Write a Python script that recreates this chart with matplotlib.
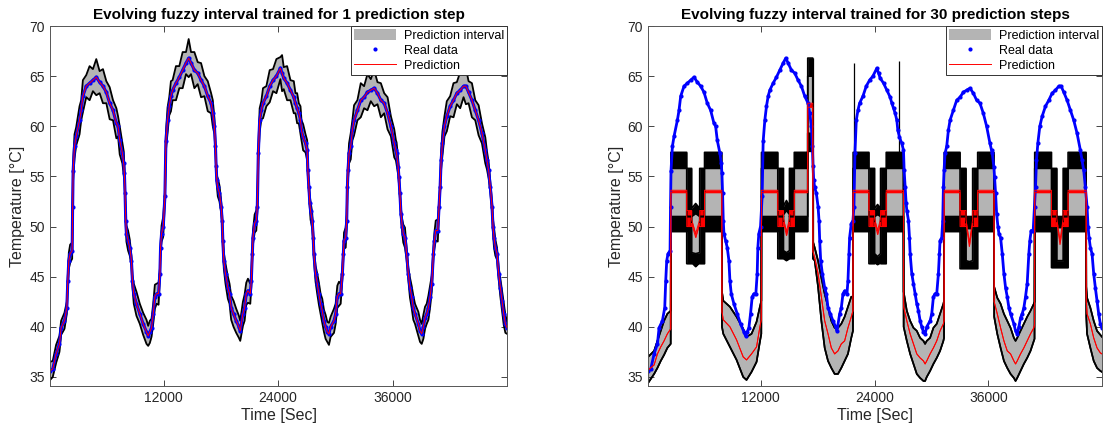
import numpy as np
import matplotlib
matplotlib.use('Agg')
import matplotlib.pyplot as plt

plt.rcParams['font.family'] = ['Liberation Sans', 'DejaVu Sans']

# ---- real data: time [s], temperature [°C] ----
real_t = [106, 387, 738, 1089, 1264, 1615, 1861, 1966, 2071, 2211, 2422,
          2470, 2520, 2668, 2843, 3194, 3369, 3545, 3896, 4247, 4598, 4949, 5299,
          5650, 6001, 6352, 6703, 7054, 7229, 7405, 7686, 7826, 7896,
          7966, 8036, 8107, 8282, 8458, 8633, 8738, 8879, 9159, 9510, 9861,
          10212, 10388, 10563, 10738, 10914, 11089, 11265, 11475, 11616, 11686, 11791, 11967,
          12140, 12246, 12421, 12597, 12772, 12948, 13299, 13650, 14000, 14351, 14632,
          14878, 15229, 15579, 15930, 16281, 16632, 16983, 17159, 17334, 17439,
          17509, 17580, 17685, 17860, 18036, 18141, 18211, 18316, 18492, 18738, 18913,
          19088, 19334, 19615, 19896, 20036, 20317, 20492, 20668, 20843, 21089, 21194,
          21299, 21369, 21545, 21720, 21825, 21931, 22071, 22247, 22422, 22773, 23124, 23475, 23826,
          24245, 24420, 24596, 24947, 25298, 25649, 25824, 26000, 26175, 26350, 26456, 26631, 26877, 27052,
          27122, 27228, 27333, 27403, 27578, 27684, 27754, 27929, 28105, 28280, 28456, 28631, 28807,
          28982, 29158, 29333, 29508, 29859, 30035, 30210, 30386, 30561, 30737, 30842, 30912, 31087, 31193,
          31263, 31333, 31438, 31614, 31789, 31965, 32316, 32667, 33017, 33368, 33719, 34070,
          34421, 34772, 35123, 35474, 35825, 36176, 36351, 36420, 36596, 36666, 36771, 36877, 37017,
          37122, 37298, 37473, 37649, 37824, 38000, 38175, 38350, 38701, 38877, 39052, 39228,
          39403, 39578, 39754, 39929, 40105, 40280, 40386, 40526, 40736, 40877, 40982,
          41087, 41228, 41438, 41684, 42035, 42386, 42737, 43087, 43438, 43684,
          43965, 44316, 44667, 45017, 45368, 45719, 45894, 46070, 46245,
          46421, 46526, 46631, 46772, 46947, 47123, 47298, 47473, 47649, 47824, 48000]
real_temp = [35.6, 35.8, 37.3, 38.3, 39.9, 40.6, 41.9, 44.6, 46.6, 47.3, 47.6,
             52.0, 55.5, 58.0, 59.0, 60.6, 61.6, 63.0, 64.0, 64.3, 64.6, 64.9, 64.4,
             64.0, 63.4, 62.3, 61.6, 60.3, 60.0, 58.6, 57.3, 56.3, 55.3,
             53.3, 50.6, 49.3, 48.6, 47.9, 46.6, 44.6, 43.3, 42.3, 41.3, 40.3,
             39.5, 39.1, 39.5, 39.9, 41.3, 43.0, 43.3, 43.3, 45.3, 47.9, 49.3, 50.0,
             53.0, 58.5, 60.6, 62.0, 63.0, 63.6, 64.3, 64.9, 65.6, 66.3, 66.8,
             66.3, 65.6, 65.3, 64.6, 64.0, 63.0, 62.3, 61.3, 60.0, 58.0,
             56.0, 54.6, 53.9, 53.3, 52.0, 50.6, 48.6, 46.6, 45.3, 43.9, 43.3,
             41.9, 41.3, 40.6, 40.0, 39.6, 41.3, 41.9, 43.3, 43.6, 43.3, 44.6,
             47.3, 48.9, 50.3, 50.6, 52.0, 57.3, 60.6, 61.6, 62.3, 63.0, 64.0, 64.6, 65.0,
             65.8, 65.3, 64.8, 64.3, 63.6, 62.9, 62.3, 61.8, 61.3, 60.6, 59.6, 58.9, 58.3, 57.6,
             55.6, 53.9, 52.3, 51.6, 50.6, 48.9, 47.3, 45.3, 44.3, 43.3, 42.3, 41.6, 40.6,
             40.0, 39.5, 39.3, 40.0, 40.6, 41.3, 43.0, 43.3, 43.3, 45.3, 47.3, 48.6, 48.9, 50.6,
             53.9, 55.6, 57.3, 58.0, 59.6, 60.6, 61.6, 62.6, 62.9, 63.4, 63.6, 63.8,
             63.3, 62.6, 62.3, 61.3, 60.0, 58.3, 57.6, 57.3, 55.9, 54.9, 53.3, 51.3, 50.0,
             49.3, 48.9, 47.3, 45.3, 43.9, 43.0, 41.9, 41.3, 40.3, 39.6, 39.3, 40.0,
             40.9, 41.3, 41.9, 43.0, 44.3, 47.3, 48.6, 49.6, 49.6, 52.0, 53.9,
             56.6, 58.3, 60.0, 61.0, 62.0, 62.6, 63.3, 63.6, 64.0, 64.0,
             63.4, 62.6, 61.6, 60.6, 59.3, 57.6, 56.6, 55.6, 53.9,
             52.0, 50.0, 48.9, 47.9, 47.3, 45.3, 43.9, 42.6, 41.3, 40.3, 39.9]
# half width of the 1-step prediction interval at each sample
pi1_halfwidth = [0.9, 0.8, 0.9, 0.8, 0.7, 0.8, 0.6, 0.5, 0.8, 0.9, 0.8,
                 0.4, 0.9, 1.2, 0.9, 1.4, 1.0, 1.6, 1.1, 1.7, 1.1, 1.8, 1.1,
                 1.7, 1.1, 1.6, 1.0, 1.5, 1.0, 1.4, 1.0, 1.2, 0.8,
                 0.4, 0.4, 0.8, 1.0, 0.8, 0.5, 0.6, 1.0, 1.2, 1.0, 1.1,
                 1.2, 1.0, 1.1, 0.9, 1.0, 1.2, 1.0, 1.1, 0.5, 0.4, 0.8, 1.0,
                 0.4, 0.9, 1.3, 0.9, 1.5, 1.0, 1.7, 1.1, 1.8, 1.1, 1.9,
                 1.1, 1.8, 1.1, 1.7, 1.0, 1.5, 1.0, 1.3, 0.8, 0.5,
                 0.4, 0.5, 0.9, 0.8, 0.6, 0.5, 0.5, 0.8, 1.0, 1.1, 1.0,
                 1.2, 1.3, 1.2, 1.1, 1.0, 1.2, 1.3, 1.1, 1.2, 1.0, 0.6,
                 0.4, 0.7, 0.9, 1.0, 0.5, 0.6, 1.2, 0.9, 1.5, 1.0, 1.6, 1.1, 1.7,
                 1.1, 1.8, 1.1, 1.7, 1.0, 1.6, 1.0, 1.5, 1.0, 1.4, 1.0, 1.3, 0.9, 1.0,
                 0.5, 0.5, 0.7, 0.9, 0.8, 0.5, 0.5, 0.8, 1.0, 1.1, 1.0, 1.2, 1.1,
                 1.2, 1.0, 1.1, 1.0, 1.2, 1.0, 1.1, 1.2, 1.0, 0.5, 0.4, 0.8, 1.0, 0.6,
                 0.5, 0.8, 1.0, 1.3, 1.0, 1.5, 1.0, 1.7, 1.1, 1.8, 1.1, 1.8,
                 1.1, 1.7, 1.0, 1.6, 1.0, 1.4, 1.0, 1.1, 0.8, 0.6, 0.5, 0.5, 0.7,
                 0.9, 1.0, 0.6, 0.6, 1.0, 1.1, 1.2, 1.0, 1.2, 1.1, 1.0, 1.2,
                 1.1, 1.0, 1.2, 1.1, 0.8, 0.4, 0.8, 1.0, 1.1, 0.5, 0.5,
                 0.9, 1.2, 1.0, 1.5, 1.0, 1.7, 1.1, 1.8, 1.1, 1.8,
                 1.1, 1.7, 1.0, 1.5, 1.0, 1.3, 0.9, 0.8, 0.5,
                 0.5, 0.7, 1.0, 0.8, 0.6, 0.6, 0.9, 1.0, 1.1, 0.9, 0.6]

# ---- 30-step model: stretches where the interval follows the data ----
low_t = [[105, 740, 1090, 1440, 1790, 2140, 2490],
         [7900, 8040, 8740, 9440, 10140, 10490, 11020, 11550, 11900, 12050],
         [17500, 17685, 18036, 18387, 18738, 19088, 19439, 19790, 20141, 20492, 20843, 21194, 21545, 21720],
         [27070, 27403, 27754, 28105, 28456, 28807, 29158, 29333, 29508, 29859, 30210, 30561, 30912, 31263, 31330],
         [36620, 36947, 37298, 37649, 38000, 38350, 38701, 38877, 39052, 39403, 39754, 40105, 40456, 40807, 40880],
         [46340, 46421, 46772, 47123, 47473, 47824, 48000]]
low_upper = [[37.0, 37.6, 38.6, 39.6, 40.6, 41.3, 41.6],
             [43.5, 42.6, 42.0, 41.0, 39.8, 39.0, 39.3, 40.5, 42.0, 42.6],
             [48.5, 47.9, 46.6, 44.9, 43.3, 42.0, 40.6, 39.9, 39.9, 40.3, 41.0, 42.0, 43.0, 43.0],
             [43.5, 41.6, 40.6, 39.9, 39.6, 38.9, 38.6, 38.3, 38.6, 38.9, 39.9, 40.3, 41.3, 42.3, 42.6],
             [44.0, 42.9, 42.3, 41.3, 40.6, 39.9, 38.9, 38.6, 38.9, 39.6, 40.3, 41.0, 41.6, 42.3, 42.5],
             [44.0, 42.9, 41.9, 40.6, 39.6, 39.2, 39.0]]
low_pred = [[35.7, 36.2, 37.3, 38.0, 38.6, 39.3, 39.8],
            [41.5, 40.7, 40.0, 38.7, 37.0, 36.7, 37.3, 38.0, 40.0, 40.7],
            [47.5, 46.9, 45.3, 43.0, 40.6, 39.3, 37.9, 37.3, 37.6, 38.3, 38.6, 39.9, 41.0, 41.6],
            [42.0, 40.6, 39.3, 38.3, 37.3, 36.9, 36.6, 36.3, 36.6, 37.3, 37.9, 38.6, 39.6, 40.3, 40.6],
            [42.5, 41.3, 39.9, 38.6, 37.6, 37.3, 36.6, 36.3, 36.6, 37.3, 37.9, 38.6, 39.3, 39.9, 40.2],
            [42.5, 41.3, 40.3, 38.9, 37.9, 37.4, 37.3]]
low_lower = [[34.4, 35.3, 35.9, 36.6, 37.2, 37.9, 38.3],
             [40.0, 39.3, 38.0, 36.7, 35.0, 34.7, 35.5, 36.5, 38.5, 39.3],
             [46.8, 46.6, 44.0, 40.6, 37.9, 36.6, 35.9, 35.3, 35.3, 35.9, 36.6, 37.3, 38.9, 39.6],
             [40.0, 38.6, 37.3, 36.3, 35.3, 34.9, 34.6, 34.6, 35.0, 35.6, 36.3, 36.9, 37.6, 38.6, 38.9],
             [41.0, 39.3, 37.9, 36.6, 35.9, 35.3, 34.9, 34.6, 34.9, 35.6, 36.3, 36.9, 37.6, 38.6, 38.8],
             [41.0, 39.3, 37.9, 36.6, 35.9, 35.6, 35.5]]

# ---- 30-step model: plateau blocks (start, left column, centre, mid, centre end, right column end, end) ----
block_edges = [[2510, 4180, 4700, 5125, 5550, 6060, 7880],
               [12070, 13790, 14390, 14705, 15020, 15530, 16950],
               [21740, 23406, 24003, 24320, 24634, 25231, 27050],
               [31350, 33020, 33650, 34000, 34350, 34880, 36600],
               [40900, 42670, 43230, 43560, 43900, 44420, 46320]]
band_upper = [55.8, 57.4]     # black band of the upper bound on a plateau
band_lower = [49.5, 51.0]     # black band of the lower bound on a plateau
band_pred = [53.38, 53.62]
column_top = 55.8
column_pred = [50.0, 51.6]
col_bottom = [46.3, 46.8, 46.3, 45.8, 45.9]
center_upper_top = [[51.8, 52.3], [52.0, 52.6], [51.8, 52.2], [51.0, 51.0], [51.0, 51.0]]
center_upper_bot = [[51.0, 51.3], [51.2, 51.6], [51.0, 51.2], [49.8, 49.8], [49.9, 49.9]]
center_lower_top = [[47.4, 47.3], [47.6, 47.4], [47.3, 47.0], [46.6, 46.5], [46.6, 46.6]]
center_lower_bot = [[46.4, 46.0], [46.8, 46.6], [46.4, 46.2], [45.8, 45.8], [45.9, 45.9]]
center_pred = [[50.5, 49.1], [50.6, 49.3], [50.6, 49.4], [50.5, 48.2], [50.6, 48.4]]

# short high column after the second plateau
spike_col_t = [16950, 17480]
spike_col_upper = [65.0, 66.8]
spike_col_lower = [57.5, 59.3]
spike_col_pred = [61.9, 62.3]

# single-sample spikes of the upper bound
spike_t = [17490, 21880, 26550]
spike_bottom = [48.0, 57.0, 57.0]
spike_top = [66.8, 66.3, 66.5]

# ---- assemble the 30-step interval ----
r_t, r_ut, r_ub, r_lt, r_lb, r_pt, r_pb = [], [], [], [], [], [], []


def add(t, ut, ub, lt, lb, pt, pb):
    r_t.extend(t); r_ut.extend(ut); r_ub.extend(ub)
    r_lt.extend(lt); r_lb.extend(lb); r_pt.extend(pt); r_pb.extend(pb)


def add_low(i):
    add(low_t[i], low_upper[i], low_upper[i], low_lower[i], low_lower[i], low_pred[i], low_pred[i])


def add_block(i):
    s, lc, c, m, ce, rc, e = block_edges[i]
    t = [s, lc, lc, c, c, m, ce, ce, rc, rc, e]
    B = (band_upper[1], band_upper[0], band_lower[1], band_lower[0], band_pred[1], band_pred[0])
    C = (column_top, band_lower[1], band_lower[1], col_bottom[i], column_pred[1], column_pred[0])
    Me = (center_upper_top[i][0], center_upper_bot[i][0], center_lower_top[i][0], center_lower_bot[i][0],
          center_pred[i][0] + 0.2, center_pred[i][0] - 0.2)
    Mm = (center_upper_top[i][1], center_upper_bot[i][1], center_lower_top[i][1], center_lower_bot[i][1],
          center_pred[i][1] + 0.2, center_pred[i][1] - 0.2)
    rows = [B, B, C, C, Me, Mm, Me, C, C, B, B]
    add(t, *[[r[k] for r in rows] for k in range(6)])


add_low(0); add_block(0); add_low(1); add_block(1)
add(spike_col_t, [spike_col_upper[1]] * 2, [spike_col_upper[0]] * 2,
    [spike_col_lower[1]] * 2, [spike_col_lower[0]] * 2, [spike_col_pred[1]] * 2, [spike_col_pred[0]] * 2)
add_low(2); add_block(2); add_low(3); add_block(3); add_low(4); add_block(4); add_low(5)

GRAY = '#b4b4b4'
AX_COL = '#262626'
BLUE = '#0000ff'

fig = plt.figure(figsize=(11.04, 4.32), dpi=100)
ax1 = fig.add_axes([0.0453, 0.1065, 0.414, 0.8333])
ax2 = fig.add_axes([0.587, 0.1065, 0.4112, 0.8333])

rt = np.array(real_t)
rv = np.array(real_temp)
hw = np.array(pi1_halfwidth)

# left: 1-step
ax1.fill_between(rt, rv - hw, rv + hw, color=GRAY, lw=0, label='Prediction interval')
ax1.plot(rt, rv + hw, color='k', lw=1.3)
ax1.plot(rt, rv - hw, color='k', lw=1.3)
ax1.plot(rt, rv, color=BLUE, lw=2.2)
ax1.plot(rt, rv, ls='none', marker='o', ms=3.0, mec='none', color=BLUE, label='Real data')
ax1.plot(rt, rv, color='#ff0000', lw=0.7, label='Prediction')

# right: 30-step
ax2.fill_between(r_t, r_lb, r_ut, color=GRAY, lw=0, label='Prediction interval')
ax2.fill_between(r_t, r_ub, r_ut, color='k', lw=0)
ax2.fill_between(r_t, r_lb, r_lt, color='k', lw=0)
for arr in (r_ut, r_ub, r_lt, r_lb):
    ax2.plot(r_t, arr, color='k', lw=1.2)
ax2.vlines(spike_t, spike_bottom, spike_top, color='k', lw=0.9)
ax2.plot(rt, rv, color=BLUE, lw=2.0)
ax2.plot(rt, rv, ls='none', marker='o', ms=3.0, mec='none', color=BLUE, label='Real data')
ax2.fill_between(r_t, r_pb, r_pt, color='#ff0000', lw=0)
ax2.plot(r_t, r_pt, color='#ff0000', lw=0.7, label='Prediction')
ax2.plot(r_t, r_pb, color='#ff0000', lw=0.7)

titles = ['Evolving fuzzy interval trained for 1 prediction step',
          'Evolving fuzzy interval trained for 30 prediction steps']
for ax, title in zip((ax1, ax2), titles):
    ax.set_xlim(100, 48000)
    ax.set_ylim(34.1, 70)
    ax.set_xticks([12000, 24000, 36000])
    ax.set_yticks(np.arange(35, 71, 5))
    ax.tick_params(direction='in', top=True, right=True, length=4, width=0.6,
                   labelsize=10, colors=AX_COL, labelcolor=AX_COL)
    for sp in ax.spines.values():
        sp.set_color('#555555')
        sp.set_linewidth(0.7)
    ax.set_title(title, fontsize=11, fontweight='bold', pad=5)
    ax.set_xlabel('Time [Sec]', fontsize=11.5, color=AX_COL, labelpad=2)
    ax.set_ylabel('Temperature [°C]', fontsize=11.5, color=AX_COL, labelpad=3)
    leg = ax.legend(loc='upper right', borderaxespad=0, fontsize=9, handlelength=3.4,
                    handleheight=1.0, labelspacing=0.15, borderpad=0.25, handletextpad=0.6,
                    fancybox=False, framealpha=1, edgecolor='#333333')
    leg.get_frame().set_linewidth(0.7)

fig.savefig('out.png', dpi=100)
